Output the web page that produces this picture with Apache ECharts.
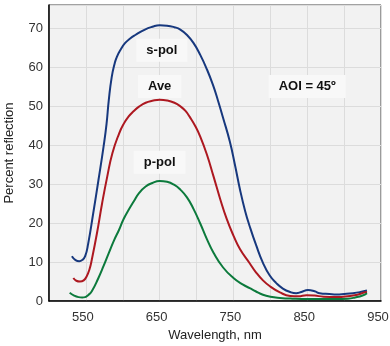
<!DOCTYPE html>
<html>
<head>
<meta charset="utf-8">
<script src="https://cdn.jsdelivr.net/npm/echarts@6/dist/echarts.min.js"></script>
<style>
html,body{margin:0;padding:0;background:#fff;}
#chart{width:390px;height:346px;}
</style>
</head>
<body>
<div id="chart"></div>
<script>
// ---- data ----
var sPolWl  = [531, 536, 541, 545, 549, 553, 560, 567, 574, 578, 581, 585, 589, 592, 597, 603, 610, 617, 630, 640, 650, 660, 670, 678, 687, 696, 705, 714, 722, 729, 736, 745, 752, 759, 766, 772, 781, 790, 799, 808, 817, 827, 835, 842, 851, 860, 867, 880, 890, 900, 912, 922, 931];
var sPolVal = [11.5, 10.5, 10.2, 10.5, 11.5, 14.6, 22.6, 31, 39.7, 45.5, 51.5, 57.5, 61, 62.7, 64.5, 66.2, 67.4, 68.3, 69.7, 70.4, 70.8, 70.7, 70.3, 69.7, 68.3, 66.2, 63.2, 59.5, 55.6, 51.5, 47, 41, 35, 28.5, 23, 19.2, 14.2, 9.8, 6.6, 4.6, 3.2, 2.3, 2.0, 2.3, 2.8, 2.5, 2.0, 1.8, 1.7, 1.8, 2.0, 2.3, 2.7];

var aveWl  = [533, 537, 542, 547, 551, 555, 558, 565, 572, 579, 586, 595, 601, 608, 615, 622, 631, 640, 650, 660, 670, 678, 685, 691, 698, 705, 714, 723, 732, 741, 750, 759, 772, 780, 790, 800, 813, 827, 838, 849, 860, 872, 890, 908, 918, 926, 931];
var aveVal = [5.9, 5.2, 5.0, 5.3, 6.3, 8.2, 10.6, 17.4, 25.1, 32, 38, 43, 45.4, 47.4, 48.8, 49.9, 50.9, 51.4, 51.7, 51.5, 50.9, 50.0, 48.8, 47.2, 45.0, 42.2, 37.6, 32, 26.2, 21, 16.8, 13.3, 9.7, 7.5, 5.3, 3.7, 2.2, 1.3, 1.2, 1.5, 1.4, 1.1, 1.0, 1.3, 1.6, 2.1, 2.3];

var pPolWl  = [528, 534, 540, 545, 549, 553, 558, 567, 574, 581, 588, 595, 601, 608, 615, 622, 631, 640, 650, 660, 670, 678, 687, 696, 705, 714, 723, 736, 750, 763, 772, 780, 790, 800, 813, 830, 850, 870, 890, 905, 915, 925, 931];
var pPolVal = [2.1, 1.4, 1.0, 0.9, 1.0, 1.5, 2.5, 5.9, 9.0, 12.3, 15.5, 18.3, 21, 23.4, 25.6, 27.7, 29.4, 30.3, 30.8, 30.6, 29.8, 28.6, 26.6, 23.6, 19.9, 15.9, 12.4, 8.6, 5.9, 4.2, 3.3, 2.5, 1.6, 1.1, 0.8, 0.6, 0.5, 0.5, 0.5, 0.6, 0.9, 1.4, 2.0];

var xTickLabels = [550, 650, 750, 850, 950];
var annotations = [
  {text: 's-pol', wl: 653, val: 64.4},
  {text: 'Ave', wl: 650, val: 55.1},
  {text: 'p-pol', wl: 650, val: 35.6},
  {text: 'AOI = 45º', wl: 850, val: 55.1}
];

function pairs(xs, ys){ return xs.map(function(x,i){ return [x, ys[i]]; }); }

var chart = echarts.init(document.getElementById('chart'), null, {renderer:'canvas'});
var font = 'Liberation Sans, Arial, sans-serif';

chart.setOption({
  animation: false,
  backgroundColor: '#ffffff',
  grid: {left: 49, right: 9, top: 5, bottom: 45, containLabel: false, outerBoundsMode: 'none',
         show: true, backgroundColor: '#f2f2f2', borderColor: '#444', borderWidth: 1},
  xAxis: {
    type: 'value', min: 500, max: 950, interval: 50,
    name: 'Wavelength, nm', nameLocation: 'middle', nameGap: 26,
    nameTextStyle: {color: '#222', fontSize: 13, fontFamily: font},
    axisLine: {show: true, lineStyle: {color: '#000', width: 1.5}},
    axisTick: {show: false},
    axisLabel: {color: '#333', fontSize: 13, fontFamily: font, margin: 10, padding: [0, 6, 0, 0],
      formatter: function(v){ return xTickLabels.indexOf(v) >= 0 ? String(v) : ''; }},
    splitLine: {show: true, lineStyle: {color: '#dcdcdc', width: 1}}
  },
  yAxis: {
    type: 'value', min: 0, max: 76, interval: 10,
    name: 'Percent reflection', nameLocation: 'middle', nameGap: 33,
    nameTextStyle: {color: '#222', fontSize: 13, fontFamily: font},
    axisLine: {show: true, lineStyle: {color: '#000', width: 1.5}},
    axisTick: {show: false},
    axisLabel: {color: '#333', fontSize: 13, fontFamily: font, margin: 6, showMaxLabel: false},
    splitLine: {show: true, lineStyle: {color: '#dcdcdc', width: 1}}
  },
  series: [
    {type: 'line', name: 's-pol', data: pairs(sPolWl, sPolVal), smooth: 0.5, showSymbol: false,
     lineStyle: {color: '#17387e', width: 2}, z: 3},
    {type: 'line', name: 'Ave', data: pairs(aveWl, aveVal), smooth: 0.5, showSymbol: false,
     lineStyle: {color: '#ad1820', width: 2}, z: 3},
    {type: 'line', name: 'p-pol', data: pairs(pPolWl, pPolVal), smooth: 0.5, showSymbol: false,
     lineStyle: {color: '#0c7a3c', width: 2}, z: 3}
  ]
});

var elems = annotations.map(function(a){
  var p = chart.convertToPixel({gridIndex: 0}, [a.wl, a.val]);
  return {
    type: 'text', x: p[0], y: p[1], z: 10,
    style: {text: a.text, fill: '#111', font: 'bold 13px ' + font,
      align: 'center', verticalAlign: 'middle',
      backgroundColor: '#f8f8f8', padding: [5, 10, 5, 10]}
  };
});
chart.setOption({graphic: {elements: elems}});
</script>
</body>
</html>
